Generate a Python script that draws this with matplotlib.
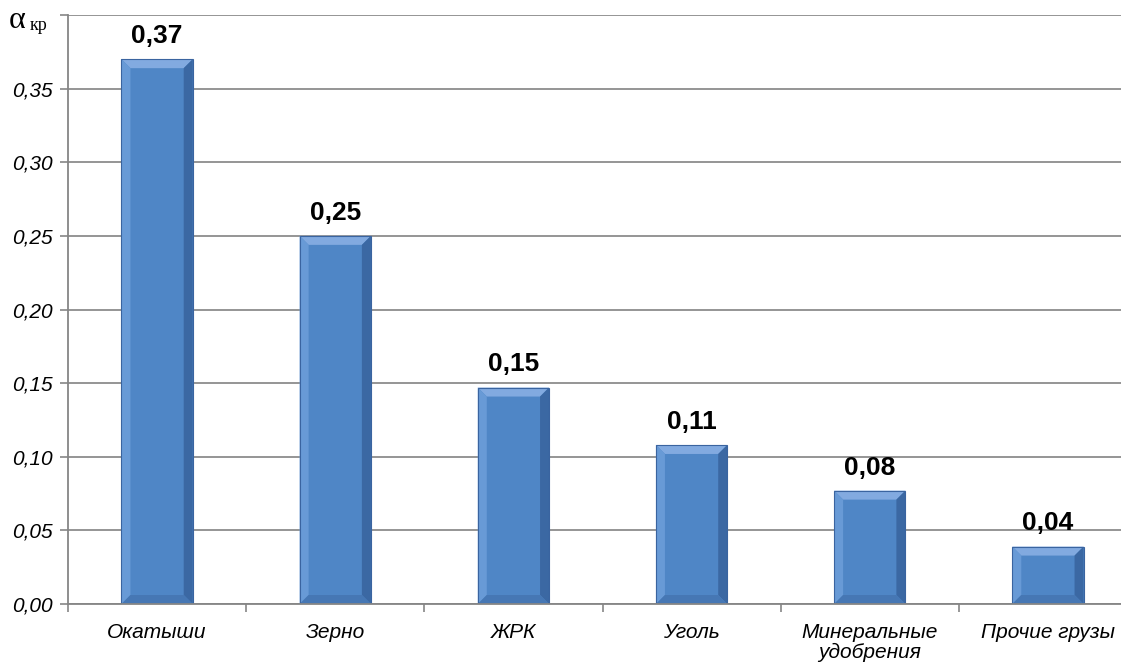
import matplotlib
matplotlib.use("Agg")
import matplotlib.pyplot as plt
from matplotlib.patches import Polygon
import numpy as np

categories = ["Окатыши", "Зерно", "ЖРК", "Уголь", "Минеральные\nудобрения", "Прочие грузы"]
values = [0.37, 0.25, 0.147, 0.108, 0.077, 0.039]
labels = ["0,37", "0,25", "0,15", "0,11", "0,08", "0,04"]
yticks = [0.00, 0.05, 0.10, 0.15, 0.20, 0.25, 0.30, 0.35, 0.40]
ytick_labels = ["0,00", "0,05", "0,10", "0,15", "0,20", "0,25", "0,30", "0,35", ""]

W, H = 1121, 664
fig = plt.figure(figsize=(W / 100, H / 100), dpi=100)
ax = fig.add_axes([68 / W, (H - 604) / H, (1137 - 68) / W, (604 - 15) / H])

x = np.arange(len(categories))
bars = ax.bar(x, values, width=0.4, color="#4F86C6", zorder=3, linewidth=0)

ax.set_xlim(-0.5, len(categories) - 0.5)
ax.set_ylim(0, 0.40)
ax.set_yticks(yticks)
ax.set_yticklabels(ytick_labels, fontsize=15, fontstyle="italic", family="Liberation Sans")
ax.set_xticks(x)
ax.set_xticklabels(categories, fontsize=15, fontstyle="italic", family="Liberation Sans",
                   linespacing=1.05)
ax.set_xticks(np.arange(len(categories) + 1) - 0.5, minor=True)
ax.tick_params(axis="x", which="major", length=0, pad=14)
ax.tick_params(axis="x", which="minor", length=6, width=1.2, color="#868686")
ax.tick_params(axis="y", length=6, width=1.2, color="#868686", pad=5)
ax.grid(axis="y", color="#8C8C8C", linewidth=1.3, zorder=0)
for s in ["top", "right"]:
    ax.spines[s].set_visible(False)
for s in ["left", "bottom"]:
    ax.spines[s].set_color("#868686")
    ax.spines[s].set_linewidth(1.3)
ax.spines["bottom"].set_zorder(4)

# bevel effect on bars (derived from each bar's own geometry, in display pixels)
fig.canvas.draw()
b = 9
for rect in bars:
    bb = rect.get_window_extent()
    x0, y0, x1, y1 = bb.x0, bb.y0, bb.x1, bb.y1
    faces = [
        ([(x0, y1), (x1, y1), (x1 - b, y1 - b), (x0 + b, y1 - b)], "#82AAE0"),   # top
        ([(x0, y0), (x0, y1), (x0 + b, y1 - b), (x0 + b, y0 + b)], "#689AD6"),   # left
        ([(x1, y0), (x1, y1), (x1 - b, y1 - b), (x1 - b, y0 + b)], "#3B68A3"),   # right
        ([(x0, y0), (x1, y0), (x1 - b, y0 + b), (x0 + b, y0 + b)], "#4677B4"),   # bottom
    ]
    for pts, c in faces:
        ax.add_patch(Polygon(pts, closed=True, facecolor=c, edgecolor="none",
                             transform=None, zorder=3.5))
    ax.add_patch(Polygon([(x0, y0), (x1, y0), (x1, y1), (x0, y1)], closed=True,
                         facecolor="none", edgecolor="#3A64A0", linewidth=0.8,
                         transform=None, zorder=3.6))

for xi, v, lab in zip(x, values, labels):
    ax.annotate(lab, (xi, v), xytext=(0, 8), textcoords="offset points",
                ha="center", va="bottom", fontsize=19, fontweight="bold",
                family="Liberation Sans", zorder=5)

fig.text(9 / W, 1 - 21 / H, "α", fontsize=23, family="Liberation Serif", va="center", ha="left")
fig.text(30 / W, 1 - 25 / H, "кр", fontsize=13, family="Liberation Serif", va="center", ha="left")

fig.savefig("out.png", dpi=100)
